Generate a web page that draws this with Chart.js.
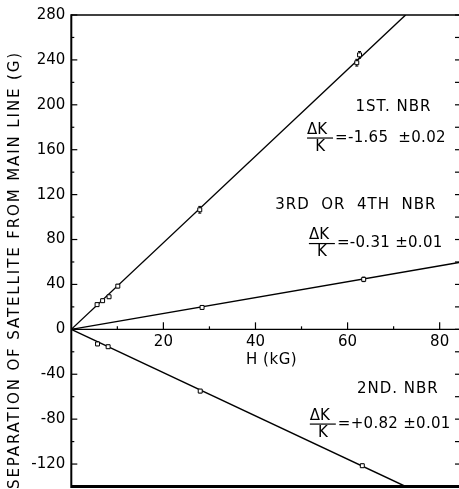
<!DOCTYPE html>
<html>
<head>
<meta charset="utf-8">
<script src="https://cdn.jsdelivr.net/npm/chart.js@4.4.1/dist/chart.umd.min.js"></script>
<style>
  html, body { margin: 0; padding: 0; background: #fff; }
  #wrap { width: 459px; height: 489px; }
</style>
</head>
<body>
<div id="wrap"><canvas id="c"></canvas></div>
<script>
const FONT = "'DejaVu Sans', sans-serif";

// field H (kG) vs satellite separation (G)
const nbr1H = [5.6, 6.8, 8.2, 10.1, 27.9, 62.0, 62.6];
const nbr1Sep = [22, 25.5, 29, 38.5, 106.5, 237.5, 244.5];
const nbr1Err = [1.5, 1.5, 1.5, 1.5, 3, 3, 3];

const nbr34H = [28.4, 63.5];
const nbr34Sep = [19.5, 44.5];
const nbr34Err = [1.5, 2];

const nbr2H = [5.7, 8.0, 28.0, 63.2];
const nbr2Sep = [-13, -15.5, -55, -121.5];
const nbr2Err = [1.5, 1.5, 1.5, 1.5];

// fitted lines through the origin, ending at the frame
const fit1H = [0, 72.6];
const fit1Sep = [0, 280];
const fit34H = [0, 84.2];
const fit34Sep = [0, 59.5];
const fit2H = [0, 72.6];
const fit2Sep = [0, -140];

const xTicks = [20, 40, 60, 80];
const yTicks = [-120, -80, -40, 0, 40, 80, 120, 160, 200, 240, 280];

const seriesNames = ["1ST. NBR", "3RD  OR  4TH  NBR", "2ND. NBR"];
const seriesRatios = ["=-1.65  \u00b10.02", "=-0.31 \u00b10.01", "=+0.82 \u00b10.01"];

const xTitle = "H (kG)";
const yTitle = "SEPARATION OF SATELLITE FROM MAIN LINE (G)";

function pts(xs, ys) {
  return xs.map((v, i) => ({ x: v, y: ys[i] }));
}

function marker(xs, ys) {
  return {
    data: pts(xs, ys),
    pointStyle: "rect",
    pointRadius: 2.8,
    pointBackgroundColor: "#fff",
    pointBorderColor: "#000",
    pointBorderWidth: 1,
  };
}

function fit(xs, ys) {
  return {
    type: "line",
    data: pts(xs, ys),
    showLine: true,
    borderColor: "#000",
    borderWidth: 1.4,
    pointRadius: 0,
  };
}

const errSets = [
  [nbr1H, nbr1Sep, nbr1Err],
  [nbr34H, nbr34Sep, nbr34Err],
  [nbr2H, nbr2Sep, nbr2Err],
];

function seg(ctx, x1, y1, x2, y2, w) {
  ctx.lineWidth = w;
  ctx.beginPath();
  ctx.moveTo(x1, y1);
  ctx.lineTo(x2, y2);
  ctx.stroke();
}

const errorBars = {
  id: "errorBars",
  beforeDatasetsDraw(chart) {
    const { ctx, scales: { x, y } } = chart;
    ctx.save();
    ctx.strokeStyle = "#000";
    errSets.forEach(([xs, ys, es]) => {
      xs.forEach((v, i) => {
        const px = x.getPixelForValue(v);
        const top = y.getPixelForValue(ys[i] + es[i]);
        const bot = y.getPixelForValue(ys[i] - es[i]);
        seg(ctx, px, top, px, bot, 1);
        seg(ctx, px - 1.5, top, px + 1.5, top, 1);
        seg(ctx, px - 1.5, bot, px + 1.5, bot, 1);
      });
    });
    ctx.restore();
  },
};

const frame = {
  id: "frame",
  afterDraw(chart) {
    const { ctx, chartArea: a, scales: { x, y } } = chart;
    ctx.save();
    ctx.strokeStyle = "#000";
    ctx.fillStyle = "#000";

    seg(ctx, a.left, a.top, a.right, a.top, 1.5);
    seg(ctx, a.left, a.bottom, a.right, a.bottom, 3);
    seg(ctx, a.left, a.top - 0.75, a.left, a.bottom + 1.5, 2);

    const y0 = y.getPixelForValue(0);
    seg(ctx, a.left, y0, a.right, y0, 1.2);

    // inward ticks, left and right
    for (let v = -140; v <= 280; v += 20) {
      const py = y.getPixelForValue(v);
      const len = v % 40 === 0 ? 6 : 3;
      seg(ctx, a.left, py, a.left + len, py, 1.2);
      seg(ctx, a.right, py, a.right - 4, py, 1.2);
    }
    // ticks on the zero line, pointing up
    for (let v = 10; v <= 80; v += 10) {
      const px = x.getPixelForValue(v);
      seg(ctx, px, y0, px, y0 - (v % 20 === 0 ? 7 : 3), 1.2);
    }

    // x axis title under the zero line
    ctx.font = "15px " + FONT;
    ctx.textAlign = "center";
    ctx.textBaseline = "middle";
    ctx.letterSpacing = "0.5px";
    ctx.fillText(xTitle, x.getPixelForValue(43.5), y.getPixelForValue(-27.3));

    // y axis title
    ctx.save();
    ctx.translate(15, 270);
    ctx.rotate(-Math.PI / 2);
    ctx.font = "15px " + FONT;
    ctx.textAlign = "center";
    ctx.textBaseline = "middle";
    ctx.letterSpacing = "0px";
    const w0 = ctx.measureText(yTitle).width;
    ctx.letterSpacing = ((436 - w0) / (yTitle.length - 1)).toFixed(2) + "px";
    ctx.fillText(yTitle, 0, 0);
    ctx.restore();

    // series labels with the fraction dK/K
    const anchors = [
      { nx: 78.2, ny: 198, fx: 51.2, fy: 170.4 },
      { nx: 79.3, ny: 110.7, fx: 51.6, fy: 76.4 },
      { nx: 79.8, ny: -53.2, fx: 51.8, fy: -84.4 },
    ];
    ctx.textBaseline = "middle";
    anchors.forEach((p, i) => {
      ctx.font = "15px " + FONT;
      ctx.letterSpacing = "1px";
      ctx.textAlign = "right";
      ctx.fillText(seriesNames[i], x.getPixelForValue(p.nx), y.getPixelForValue(p.ny));

      ctx.letterSpacing = "0px";
      const fx = x.getPixelForValue(p.fx);
      const fy = y.getPixelForValue(p.fy);
      ctx.textAlign = "left";
      ctx.fillText("\u0394K", fx, fy - 8);
      seg(ctx, fx, fy, fx + 26, fy, 1.2);
      ctx.textAlign = "center";
      ctx.fillText("K", fx + 13, fy + 9);
      ctx.textAlign = "left";
      ctx.letterSpacing = "0.3px";
      ctx.fillText(seriesRatios[i], fx + 28, fy);
    });
    ctx.restore();
  },
};

new Chart(document.getElementById("c"), {
  type: "scatter",
  data: {
    datasets: [
      marker(nbr1H, nbr1Sep),
      marker(nbr34H, nbr34Sep),
      marker(nbr2H, nbr2Sep),
      fit(fit1H, fit1Sep),
      fit(fit34H, fit34Sep),
      fit(fit2H, fit2Sep),
    ],
  },
  options: {
    responsive: true,
    maintainAspectRatio: false,
    animation: false,
    layout: { autoPadding: false, padding: { left: 0, right: 0, top: 15, bottom: 2.5 } },
    plugins: { legend: { display: false }, tooltip: { enabled: false } },
    scales: {
      x: {
        type: "linear",
        min: 0,
        max: 84.2,
        position: { y: 0 },
        grid: { display: false, drawTicks: false },
        border: { display: false },
        afterBuildTicks: (s) => { s.ticks = xTicks.map((v) => ({ value: v })); },
        afterFit: (s) => { s.height = 0; s.paddingLeft = 0; s.paddingRight = 0; },
        ticks: { color: "#000", font: { family: FONT, size: 15 }, padding: 4, maxRotation: 0 },
      },
      y: {
        type: "linear",
        min: -140,
        max: 280,
        grid: { display: false, drawTicks: false },
        border: { display: false },
        afterBuildTicks: (s) => { s.ticks = yTicks.map((v) => ({ value: v })); },
        afterFit: (s) => { s.width = 71.3; s.paddingTop = 0; s.paddingBottom = 0; },
        ticks: { color: "#000", font: { family: FONT, size: 15 }, padding: 6 },
      },
    },
  },
  plugins: [errorBars, frame],
});
</script>
</body>
</html>
